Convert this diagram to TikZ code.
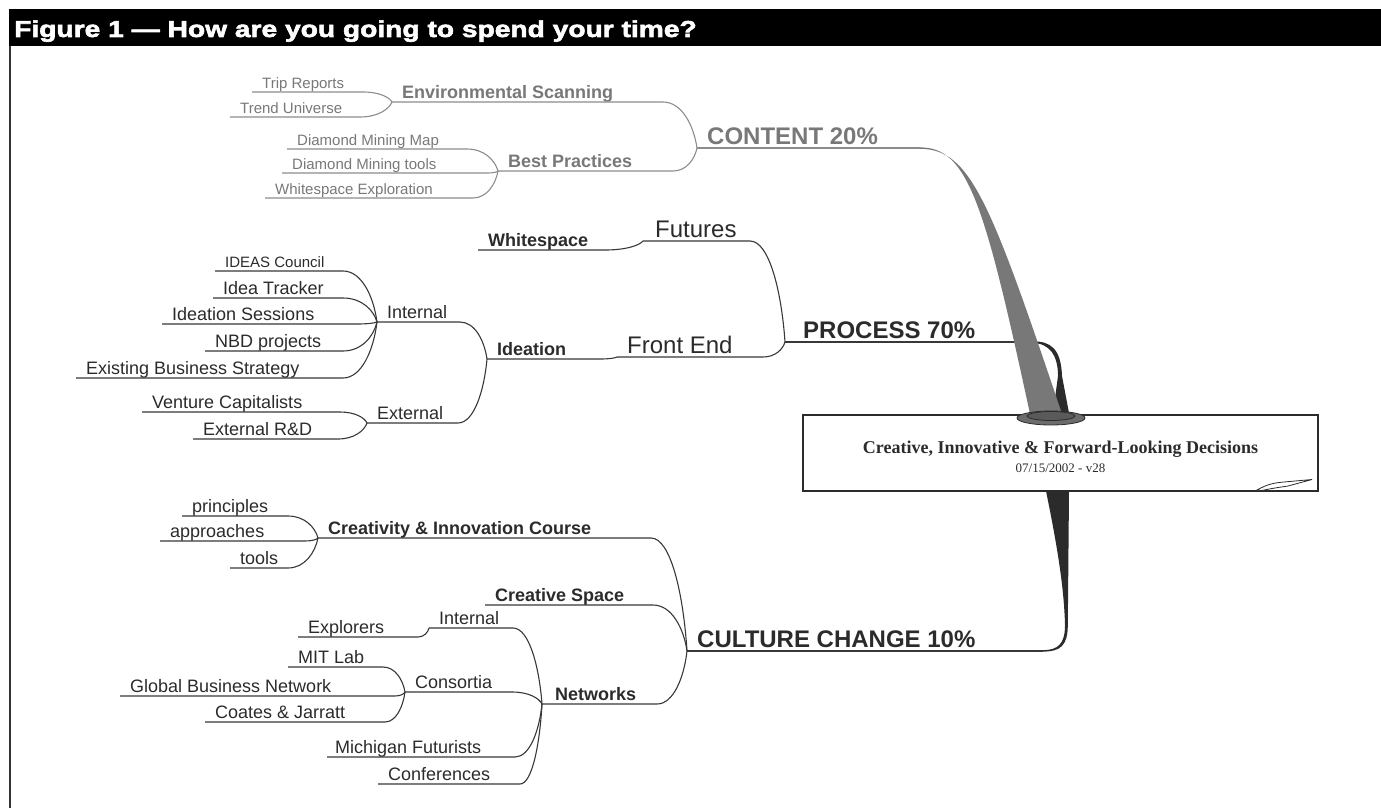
\documentclass[tikz,border=0pt]{standalone}
\usepackage{fontspec}
\setmainfont{Liberation Sans}
\newfontfamily\serifbox{Liberation Serif}
\newfontfamily\headfont[FakeStretch=1.225,FakeBold=2.5]{Liberation Sans}
\usetikzlibrary{calc}

\definecolor{lightink}{HTML}{787878}
\definecolor{lightrule}{HTML}{8C8C8C}
\definecolor{inkdark}{HTML}{2B2B2B}
\definecolor{darkrule}{HTML}{383838}

\tikzset{
  topic/.style={anchor=south west, inner xsep=10pt, inner ysep=1pt, text depth=.2em},
  maintopic/.style={topic, font=\fontsize{24}{26}\selectfont\bfseries},
  subtopic/.style={topic, font=\fontsize{18}{20}\selectfont\bfseries},
  plaintopic/.style={topic, font=\fontsize{24}{26}\selectfont},
  leaf/.style={topic, font=\fontsize{18}{20}\selectfont},
  leafsmall/.style={topic, font=\fontsize{15}{17}\selectfont},
  fan/.style={to path={let \p1=(\tikztostart), \p2=(\tikztotarget) in
    .. controls (\x1+0.55*\x2-0.55*\x1,\y1) and (\x2-0.1*\x2+0.1*\x1,\y2+0.5*\y1-0.5*\y2) .. (\tikztotarget)}},
  graypath/.style={draw=lightrule, line width=1.1pt},
  darkpath/.style={draw=darkrule, line width=1.1pt}
}

\begin{document}
\begin{tikzpicture}[x=1pt,y=-1pt]
\useasboundingbox (0,0) rectangle (1381,808);
% heading bar
\fill[black] (9,9.5) rectangle (1381,46);
\node[anchor=base west, text=white, inner sep=0pt, font=\headfont\bfseries\fontsize{23}{25}\selectfont] (heading) at (14,37) {Figure 1 — How are you going to spend your time?};
\draw[line width=1.5pt, black!80] (10,46) -- (10,808);

% central box
\node[draw=inkdark, line width=1.6pt, minimum width=515pt, minimum height=76pt, inner sep=0pt] (hub) at (1060.5,453) {};
\node[align=center, font=\serifbox, text=inkdark] (hubtext) at ([yshift=-4pt]hub.center) {{\bfseries\fontsize{18}{20}\selectfont Creative, Innovative \& Forward-Looking Decisions}\\[5pt]{\fontsize{13}{15}\selectfont 07/15/2002 - v28}};
\filldraw[fill=white, draw=inkdark, line width=0.8pt] (1257,490) .. controls (1266,485) and (1272,483) .. (1284,482) -- (1312,479.5) -- (1288,486) .. controls (1278,487.5) and (1268,489) .. (1262,490.5) -- cycle;

% CONTENT
\node[maintopic, text=lightink] (content) at (697,148) {CONTENT 20\%};
\node[subtopic, text=lightink] (envscan) at (392,102) {Environmental Scanning};
\node[subtopic, text=lightink] (bestprac) at (498,171) {Best Practices};
\node[leafsmall, text=lightink] (trip) at (252,92) {Trip Reports};
\node[leafsmall, text=lightink] (trend) at (230,117) {Trend Universe};
\node[leafsmall, text=lightink] (dmmap) at (287,149) {Diamond Mining Map};
\node[leafsmall, text=lightink] (dmtools) at (282,173) {Diamond Mining tools};
\node[leafsmall, text=lightink] (wsexp) at (265,198) {Whitespace Exploration};
\draw[graypath] (content.south west) -- ++(223,0);
\draw[graypath] (envscan.south west) -- ++(271,0) to[fan] (content.south west);
\draw[graypath] (bestprac.south west) -- ++(175,0) to[fan] (content.south west);
\draw[graypath] (trip.south west) -- ++(111,0) to[fan] (envscan.south west);
\draw[graypath] (trend.south west) -- ++(130,0) to[fan] (envscan.south west);
\draw[graypath] (dmmap.south west) -- ++(180,0) to[fan] (bestprac.south west);
\draw[graypath] (dmtools.south west) -- ++(206,0) to[fan] (bestprac.south west);
\draw[graypath] (wsexp.south west) -- ++(208,0) to[fan] (bestprac.south west);

% PROCESS
\node[maintopic, text=inkdark, inner xsep=18pt] (process) at (785,342) {PROCESS 70\%};
\node[plaintopic, text=inkdark, inner xsep=12pt] (futures) at (643,241) {Futures};
\node[plaintopic, text=inkdark] (frontend) at (617,357) {Front End};
\node[subtopic, text=inkdark] (whitespace) at (478,250) {Whitespace};
\node[subtopic, text=inkdark] (ideation) at (487,359) {Ideation};
\node[leaf, text=inkdark] (internal) at (377,322) {Internal};
\node[leaf, text=inkdark] (external) at (367,423) {External};
\node[leafsmall, text=inkdark] (ideas) at (215,271) {IDEAS Council};
\node[leaf, text=inkdark] (tracker) at (213,298) {Idea Tracker};
\node[leaf, text=inkdark] (sessions) at (162,324) {Ideation Sessions};
\node[leaf, text=inkdark] (nbd) at (205,351) {NBD projects};
\node[leaf, text=inkdark] (existing) at (76,378) {Existing Business Strategy};
\node[leaf, text=inkdark] (venture) at (142,412) {Venture Capitalists};
\node[leaf, text=inkdark] (extrd) at (193,439) {External R\&D};
\draw[darkpath] (process.south west) -- ++(247,0);
\draw[darkpath] (futures.south west) -- ++(107,0) to[fan] (process.south west);
\draw[darkpath] (frontend.south west) -- ++(146,0) to[fan] (process.south west);
\draw[darkpath] (whitespace.south west) -- ++(127,0) to[fan] (futures.south west);
\draw[darkpath] (ideation.south west) -- ++(113,0) to[fan] (frontend.south west);
\draw[darkpath] (internal.south west) -- ++(83,0) to[fan] (ideation.south west);
\draw[darkpath] (external.south west) -- ++(91,0) to[fan] (ideation.south west);
\draw[darkpath] (ideas.south west) -- ++(128,0) to[fan] (internal.south west);
\draw[darkpath] (tracker.south west) -- ++(130,0) to[fan] (internal.south west);
\draw[darkpath] (sessions.south west) -- ++(195,0) to[fan] (internal.south west);
\draw[darkpath] (nbd.south west) -- ++(138,0) to[fan] (internal.south west);
\draw[darkpath] (existing.south west) -- ++(267,0) to[fan] (internal.south west);
\draw[darkpath] (venture.south west) -- ++(198,0) to[fan] (external.south west);
\draw[darkpath] (extrd.south west) -- ++(145,0) to[fan] (external.south west);

% CULTURE CHANGE
\node[maintopic, text=inkdark] (culture) at (687,651) {CULTURE CHANGE 10\%};
\node[subtopic, text=inkdark] (course) at (318,538) {Creativity \& Innovation Course};
\node[subtopic, text=inkdark] (space) at (485,605) {Creative Space};
\node[subtopic, text=inkdark, inner xsep=13pt] (networks) at (542,704) {Networks};
\node[leaf, text=inkdark] (principles) at (182,516) {principles};
\node[leaf, text=inkdark] (approaches) at (160,541) {approaches};
\node[leaf, text=inkdark] (tools) at (230,568) {tools};
\node[leaf, text=inkdark] (netinternal) at (429,628) {Internal};
\node[leaf, text=inkdark] (explorers) at (298,637) {Explorers};
\node[leaf, text=inkdark] (consortia) at (405,692) {Consortia};
\node[leaf, text=inkdark] (mitlab) at (288,667) {MIT Lab};
\node[leaf, text=inkdark] (gbn) at (120,696) {Global Business Network};
\node[leaf, text=inkdark] (coates) at (205,722) {Coates \& Jarratt};
\node[leaf, text=inkdark, inner xsep=8pt] (michigan) at (327,757) {Michigan Futurists};
\node[leaf, text=inkdark] (conferences) at (378,784) {Conferences};
\draw[darkpath] (culture.south west) -- ++(356,0);
\draw[darkpath] (course.south west) -- ++(333,0) to[fan] (culture.south west);
\draw[darkpath] (space.south west) -- ++(168,0) to[fan] (culture.south west);
\draw[darkpath] (networks.south west) -- ++(115,0) to[fan] (culture.south west);
\draw[darkpath] (principles.south west) -- ++(106,0) to[fan] (course.south west);
\draw[darkpath] (approaches.south west) -- ++(145,0) to[fan] (course.south west);
\draw[darkpath] (tools.south west) -- ++(58,0) to[fan] (course.south west);
\draw[darkpath] (netinternal.south west) -- ++(84,0) to[fan] (networks.south west);
\draw[darkpath] (explorers.south west) -- ++(120,0) to[fan] (netinternal.south west);
\draw[darkpath] (consortia.south west) -- ++(107,0) to[fan] (networks.south west);
\draw[darkpath] (mitlab.south west) -- ++(95,0) to[fan] (consortia.south west);
\draw[darkpath] (gbn.south west) -- ++(275,0) to[fan] (consortia.south west);
\draw[darkpath] (coates.south west) -- ++(180,0) to[fan] (consortia.south west);
\draw[darkpath] (michigan.south west) -- ++(188,0) to[fan] (networks.south west);
\draw[darkpath] (conferences.south west) -- ++(142,0) to[fan] (networks.south west);

% wedges into the box
\fill[inkdark] (1032,341.3) .. controls (1051,341) and (1061,349) .. (1062,376) -- (1069,413) -- (1053,413) -- (1058,376) .. controls (1058,356) and (1050,343) .. (1032,343) -- cycle;
\fill[lightink] (920,147.4) .. controls (968,147) and (985,205) .. (1030,414) -- (1062,414) .. controls (990,200) and (970,149) .. (920,148.8) -- cycle;
\fill[inkdark] (1046,491) .. controls (1056,540) and (1064,585) .. (1065,625) .. controls (1065,644) and (1058,650) .. (1043,650.2) -- (1043,651.6) .. controls (1060,651.6) and (1067.8,646) .. (1067.8,625) -- (1069,491) -- cycle;
\filldraw[fill=lightink!90!black, draw=inkdark, line width=0.8pt] (1051,418) ellipse [x radius=34pt, y radius=7pt];
\filldraw[fill=lightink!75!black, draw=inkdark, line width=0.8pt] (1051,416) ellipse [x radius=24pt, y radius=4.5pt];
\end{tikzpicture}
\end{document}
